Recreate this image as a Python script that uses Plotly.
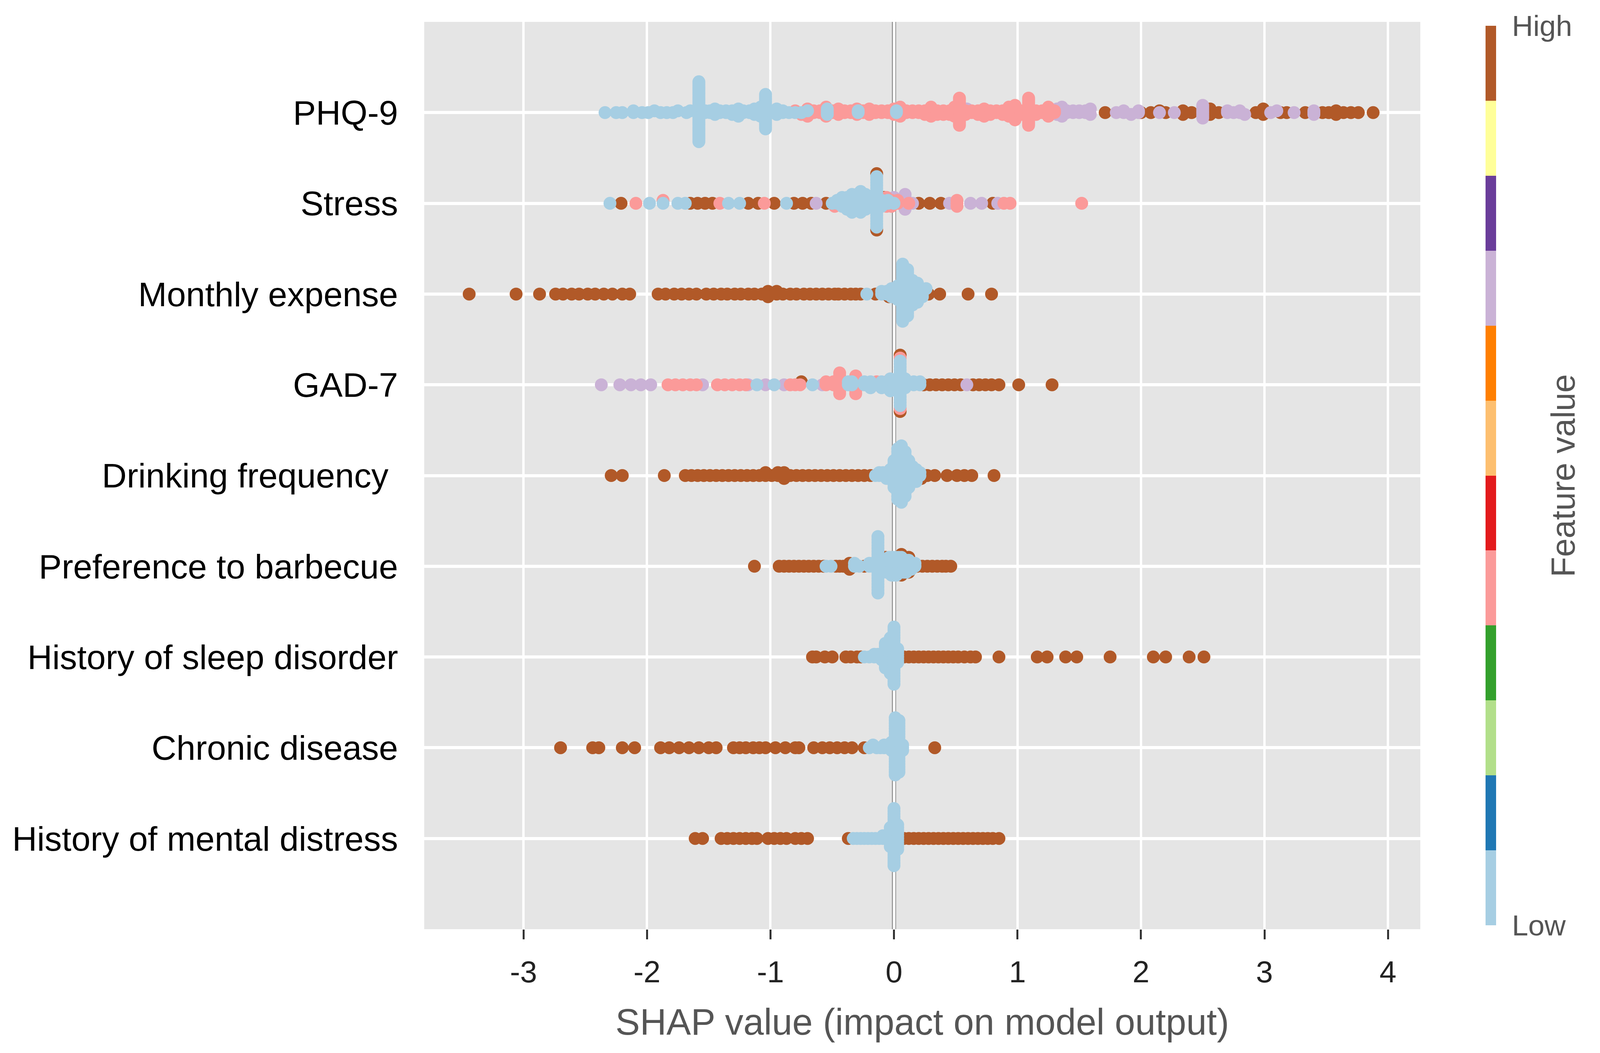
import numpy as np
import plotly.graph_objects as go

# rows from top to bottom
features = ["PHQ-9", "Stress", "Monthly expense", "GAD-7", "Drinking frequency\u00a0",
            "Preference to barbecue", "History of sleep disorder", "Chronic disease",
            "History of mental distress"]

x_ticks = [-3, -2, -1, 0, 1, 2, 3, 4]
x_tick_text = ["-3", "-2", "-1", "0", "1", "2", "3", "4"]

# feature value levels (0 = low ... 1 = high)
LOW, MID, UPPER, HIGH = 0.0, 0.4, 0.7, 1.0

# ---- PHQ-9 ----
phq9_low_x = [-2.34, -2.25, -2.20, -2.11, -2.04, -1.99, -1.94, -1.89, -1.84, -1.79, -1.75, -1.68, -1.65,
              -1.58, -1.53, -1.49, -1.45, -1.41, -1.36, -1.31, -1.26, -1.22, -1.17, -1.13, -1.08, -1.04,
              -1.00, -0.95, -0.90, -0.85, -0.80, -0.75, -0.70, -0.54, -0.29, 0.02]
phq9_low_n = [1, 1, 1, 2, 1, 1, 1, 1, 1, 1, 1, 1, 1,
              34, 2, 2, 2, 2, 2, 3, 2, 2, 2, 2, 6, 20,
              2, 2, 2, 1, 1, 1, 1, 4, 2, 2]
phq9_mid_x = [-0.80, -0.75, -0.70, -0.65, -0.60, -0.55, -0.50, -0.45, -0.40, -0.35,
              -0.30, -0.25, -0.20, -0.15, -0.10, -0.05, 0.00, 0.05, 0.10, 0.15,
              0.20, 0.25, 0.30, 0.35, 0.40, 0.45, 0.49, 0.53, 0.58, 0.63,
              0.68, 0.73, 0.78, 0.83, 0.88, 0.93, 0.98, 1.03, 1.09, 1.15,
              1.20, 1.25, 1.30]
phq9_mid_n = [1, 1, 2, 2, 2, 2, 2, 2, 2, 2,
              2, 2, 2, 2, 2, 2, 2, 2, 2, 2,
              2, 3, 3, 3, 3, 3, 3, 16, 3, 2,
              3, 2, 3, 2, 3, 6, 3, 3, 16, 3,
              2, 6, 2]
phq9_upper_x = [0.59, 1.32, 1.36, 1.40, 1.45, 1.50, 1.55, 1.59, 1.80, 1.86, 1.92, 1.98, 2.15, 2.27,
                2.50, 2.70, 2.75, 2.80, 2.84, 3.05, 3.10, 3.24, 3.40]
phq9_upper_n = [1, 2, 2, 2, 2, 2, 2, 2, 1, 2, 1, 2, 1, 1,
                8, 2, 1, 2, 1, 1, 1, 1, 3]
phq9_high_x = [1.71, 2.00, 2.08, 2.15, 2.20, 2.34, 2.41, 2.56, 2.63, 2.93, 2.99, 3.13, 3.18,
               3.33, 3.47, 3.52, 3.58, 3.64, 3.70, 3.76, 3.88]
phq9_high_n = [1, 1, 1, 1, 1, 3, 1, 4, 1, 1, 4, 1, 1,
               1, 1, 1, 3, 1, 1, 1, 1]

# ---- Stress ----
stress_low_x = [-2.30, -1.98, -1.87, -1.75, -1.69, -1.34, -1.25, -0.87, -0.50, -0.46, -0.42, -0.38,
                -0.34, -0.30, -0.27, -0.23, -0.19, -0.14, -0.10, -0.05, 0.00]
stress_low_n = [1, 1, 1, 1, 1, 1, 1, 1, 1, 2, 4, 5,
                7, 6, 8, 6, 4, 18, 3, 2, 1]
stress_mid_x = [-2.09, -1.87, -1.41, -1.05, -0.48, -0.06, -0.02, 0.03, 0.12, 0.51, 0.89, 0.94, 1.52]
stress_mid_n = [1, 1, 1, 1, 1, 2, 2, 2, 1, 3, 1, 1, 1]
stress_upper_x = [-0.63, 0.00, 0.09, 0.15, 0.45, 0.62, 0.71, 0.84]
stress_upper_n = [1, 1, 5, 1, 1, 1, 1, 1]
stress_high_x = [-2.21, -1.65, -1.59, -1.53, -1.47, -1.18, -1.10, -0.97, -0.81, -0.74, -0.67, -0.55,
                 -0.14, -0.08, 0.05, 0.20, 0.29, 0.38, 0.80]
stress_high_n = [1, 1, 1, 1, 1, 1, 1, 1, 1, 1, 1, 1,
                 2, 1, 1, 1, 1, 1, 1]

# ---- Monthly expense ----
expense_low_x = [-0.22, -0.10, -0.06, -0.02, 0.03, 0.07, 0.11, 0.15, 0.19, 0.23, 0.26]
expense_low_n = [1, 2, 2, 4, 6, 22, 18, 10, 8, 3, 1]
expense_high_x = [-3.44, -3.06, -2.87, -2.74, -2.68, -2.61, -2.55, -2.48, -2.42, -2.35,
                  -2.28, -2.20, -2.14, -1.91, -1.85, -1.78, -1.72, -1.66, -1.60, -1.52,
                  -1.46, -1.40, -1.35, -1.29, -1.24, -1.18, -1.13, -1.07, -1.02, -0.95,
                  -0.90, -0.84, -0.79, -0.73, -0.68, -0.63, -0.58, -0.53, -0.48, -0.45,
                  -0.40, -0.35, -0.31, -0.27, -0.15, -0.04, 0.28, 0.37, 0.60, 0.79]
expense_high_n = [1, 1, 1, 1, 1, 1, 1, 1, 1, 1,
                  1, 1, 1, 1, 1, 1, 1, 1, 1, 1,
                  1, 1, 1, 1, 1, 1, 1, 1, 3, 2,
                  1, 1, 1, 1, 1, 1, 1, 1, 1, 1,
                  1, 1, 1, 1, 1, 1, 1, 1, 1, 1]

# ---- GAD-7 ----
gad7_low_x = [-1.11, -0.97, -0.66, -0.37, -0.34, -0.24, -0.19, -0.10, -0.03, 0.05, 0.09, 0.16, 0.21]
gad7_low_n = [1, 1, 1, 2, 2, 2, 3, 3, 5, 16, 4, 2, 2]
gad7_mid_x = [-1.83, -1.77, -1.71, -1.65, -1.60, -1.43, -1.37, -1.31, -1.25, -1.20,
              -0.84, -0.80, -0.76, -0.55, -0.49, -0.44, -0.31, -0.14, -0.06, 0.02, 0.05, 0.11]
gad7_mid_n = [1, 1, 1, 1, 1, 1, 1, 1, 1, 1,
              1, 1, 1, 2, 2, 8, 5, 2, 2, 1, 2, 1]
gad7_upper_x = [-2.37, -2.22, -2.13, -2.05, -1.97, -1.55, -1.18, -1.04, -0.89, -0.58, 0.59]
gad7_upper_n = [1, 1, 1, 1, 1, 1, 1, 1, 1, 1, 1]
gad7_high_x = [-0.75, 0.05, 0.24, 0.29, 0.34, 0.39, 0.44, 0.49, 0.54, 0.64, 0.69, 0.74, 0.79, 0.85,
               1.01, 1.28]
gad7_high_n = [1, 2, 1, 1, 1, 1, 1, 1, 1, 1, 1, 1, 1, 1,
               1, 1]

# ---- Drinking frequency ----
drink_low_x = [-0.15, -0.12, -0.09, -0.06, -0.03, 0.00, 0.03, 0.06, 0.09, 0.12, 0.15, 0.18, 0.21]
drink_low_n = [1, 2, 2, 3, 4, 10, 18, 20, 16, 10, 6, 5, 2]
drink_high_x = [-2.29, -2.20, -1.86, -1.69, -1.64, -1.59, -1.54, -1.49, -1.44, -1.39,
                -1.34, -1.29, -1.24, -1.19, -1.14, -1.09, -1.04, -0.99, -0.94, -0.89,
                -0.84, -0.79, -0.74, -0.69, -0.64, -0.59, -0.54, -0.49, -0.44, -0.39,
                -0.34, -0.29, -0.24, -0.19, 0.22, 0.27, 0.33, 0.43, 0.51, 0.57,
                0.63, 0.81]
drink_high_n = [1, 1, 1, 1, 1, 1, 1, 1, 1, 1,
                1, 1, 1, 1, 1, 1, 2, 1, 2, 3,
                1, 1, 1, 1, 1, 1, 1, 1, 1, 1,
                1, 1, 1, 1, 1, 1, 1, 1, 1, 1,
                1, 1]

# ---- Preference to barbecue ----
bbq_low_x = [-0.55, -0.51, -0.32, -0.28, -0.20, -0.17, -0.13, -0.10, -0.06, -0.04,
             -0.02, 0.00, 0.02, 0.04, 0.06, 0.08, 0.10, 0.12, 0.14, 0.17]
bbq_low_n = [1, 1, 2, 1, 2, 2, 20, 2, 5, 6,
             7, 7, 7, 6, 6, 5, 5, 4, 3, 2]
bbq_high_x = [-1.13, -0.93, -0.89, -0.85, -0.81, -0.77, -0.73, -0.69, -0.65, -0.61,
              -0.57, -0.47, -0.44, -0.41, -0.36, -0.24, -0.07, 0.06, 0.12, 0.19,
              0.23, 0.27, 0.31, 0.35, 0.39, 0.42, 0.46]
bbq_high_n = [1, 1, 1, 1, 1, 1, 1, 1, 1, 1,
              1, 1, 1, 1, 3, 1, 1, 2, 2, 1,
              1, 1, 1, 1, 1, 1, 1]

# ---- History of sleep disorder ----
sleep_low_x = [-0.24, -0.20, -0.16, -0.13, -0.10, -0.07, -0.03, 0.00, 0.03]
sleep_low_n = [1, 1, 2, 2, 3, 10, 14, 22, 6]
sleep_high_x = [-0.66, -0.63, -0.56, -0.50, -0.39, -0.35, -0.30, -0.27, 0.08, 0.12,
                0.16, 0.20, 0.24, 0.28, 0.32, 0.36, 0.40, 0.44, 0.48, 0.52,
                0.57, 0.62, 0.66, 0.85, 1.16, 1.24, 1.39, 1.48, 1.75, 2.10,
                2.20, 2.39, 2.51]
sleep_high_n = [1, 1, 1, 1, 1, 1, 1, 1, 1, 1,
                1, 1, 1, 1, 1, 1, 1, 1, 1, 1,
                1, 1, 1, 1, 1, 1, 1, 1, 1, 1,
                1, 1, 1]

# ---- Chronic disease ----
chronic_low_x = [-0.20, -0.17, -0.14, -0.11, -0.08, -0.05, -0.02, 0.01, 0.04, 0.07]
chronic_low_n = [1, 1, 1, 1, 2, 2, 4, 22, 20, 3]
chronic_high_x = [-2.70, -2.44, -2.39, -2.20, -2.10, -1.89, -1.82, -1.74, -1.66, -1.58,
                  -1.50, -1.44, -1.30, -1.25, -1.20, -1.14, -1.09, -1.04, -0.96, -0.88,
                  -0.80, -0.77, -0.65, -0.58, -0.52, -0.46, -0.40, -0.34, -0.24, 0.33]
chronic_high_n = [1, 1, 1, 1, 1, 1, 1, 1, 1, 1,
                  1, 1, 1, 1, 1, 1, 1, 1, 1, 1,
                  1, 1, 1, 1, 1, 1, 1, 1, 1, 1]

# ---- History of mental distress ----
mental_low_x = [-0.33, -0.30, -0.27, -0.24, -0.21, -0.18, -0.15, -0.12, -0.09, -0.06, -0.03, 0.00, 0.03]
mental_low_n = [1, 1, 1, 1, 1, 1, 1, 1, 2, 2, 8, 22, 10]
mental_high_x = [-1.61, -1.55, -1.40, -1.35, -1.30, -1.25, -1.20, -1.15, -1.11, -1.02,
                 -0.97, -0.92, -0.87, -0.80, -0.75, -0.70, -0.37, 0.08, 0.12, 0.16,
                 0.20, 0.24, 0.28, 0.32, 0.36, 0.40, 0.44, 0.48, 0.52, 0.56,
                 0.60, 0.64, 0.68, 0.72, 0.76, 0.80, 0.85]
mental_high_n = [1, 1, 1, 1, 1, 1, 1, 1, 1, 1,
                 1, 1, 1, 1, 1, 1, 1, 1, 1, 1,
                 1, 1, 1, 1, 1, 1, 1, 1, 1, 1,
                 1, 1, 1, 1, 1, 1, 1]

rows = [
    [(phq9_low_x, phq9_low_n, LOW), (phq9_mid_x, phq9_mid_n, MID),
     (phq9_upper_x, phq9_upper_n, UPPER), (phq9_high_x, phq9_high_n, HIGH)],
    [(stress_low_x, stress_low_n, LOW), (stress_mid_x, stress_mid_n, MID),
     (stress_upper_x, stress_upper_n, UPPER), (stress_high_x, stress_high_n, HIGH)],
    [(expense_low_x, expense_low_n, LOW), (expense_high_x, expense_high_n, HIGH)],
    [(gad7_low_x, gad7_low_n, LOW), (gad7_mid_x, gad7_mid_n, MID),
     (gad7_upper_x, gad7_upper_n, UPPER), (gad7_high_x, gad7_high_n, HIGH)],
    [(drink_low_x, drink_low_n, LOW), (drink_high_x, drink_high_n, HIGH)],
    [(bbq_low_x, bbq_low_n, LOW), (bbq_high_x, bbq_high_n, HIGH)],
    [(sleep_low_x, sleep_low_n, LOW), (sleep_high_x, sleep_high_n, HIGH)],
    [(chronic_low_x, chronic_low_n, LOW), (chronic_high_x, chronic_high_n, HIGH)],
    [(mental_low_x, mental_low_n, LOW), (mental_high_x, mental_high_n, HIGH)],
]

paired = ["#a6cee3", "#1f78b4", "#b2df8a", "#33a02c", "#fb9a99", "#e31a1c",
          "#fdbf6f", "#ff7f00", "#cab2d6", "#6a3d9a", "#ffff99", "#b15928"]


def swarm_offsets(shaps, nbins=100, row_height=0.4):
    # same stacking rule as shap's beeswarm summary plot
    shaps = np.asarray(shaps, dtype=float)
    quant = np.round(nbins * (shaps - shaps.min()) / (shaps.max() - shaps.min() + 1e-8))
    ys = np.zeros(len(shaps))
    layer, last_bin = 0, -1
    for ind in np.argsort(quant, kind="stable"):
        if quant[ind] != last_bin:
            layer = 0
        ys[ind] = np.ceil(layer / 2) * ((layer % 2) * 2 - 1)
        layer += 1
        last_bin = quant[ind]
    ys *= 0.9 * (row_height / np.max(ys + 1))
    return ys


all_x, all_y, all_c = [], [], []
n_rows = len(features)
for i, groups in enumerate(rows):
    xs = np.concatenate([np.repeat(g[0], g[1]) for g in groups])
    cs = np.concatenate([np.repeat(g[2], np.sum(g[1])) for g in groups])
    pos = n_rows - 1 - i
    all_x.append(xs)
    all_y.append(pos + swarm_offsets(xs))
    all_c.append(cs)

px_x = np.concatenate(all_x)
px_y = np.concatenate(all_y)
px_c = np.concatenate(all_c)
# outer (higher valued) points go underneath, so they show as rims around the piles
order = np.argsort(-px_c, kind="stable")

# discrete "Paired" colour scale
cscale = []
for k, col in enumerate(paired):
    cscale.append([k / 12, col])
    cscale.append([(k + 1) / 12, col])

fig = go.Figure(go.Scatter(
    x=px_x[order], y=px_y[order], mode="markers",
    marker=dict(size=33, color=px_c[order], colorscale=cscale, cmin=0, cmax=1,
                line=dict(width=0), opacity=1,
                colorbar=dict(x=1.0614, xanchor="left", y=0.5, yanchor="middle", len=1.0,
                              thickness=27, outlinewidth=0, tickvals=[0, 1],
                              ticktext=["Low", "High"], ticks="outside", ticklen=26,
                              tickcolor="rgba(0,0,0,0)",
                              tickfont=dict(size=75, color="#555555"))),
    showlegend=False, hoverinfo="skip"))

fig.add_shape(type="line", x0=0, x1=0, xref="x", y0=0, y1=1, yref="paper",
              line=dict(color="#999999", width=11), layer="below")

fig.add_annotation(text="Feature value", x=1.1432, y=0.5, xref="paper", yref="paper",
                   textangle=-90, showarrow=False, xanchor="center", yanchor="middle",
                   font=dict(size=85, color="#555555"))

fig.update_layout(
    margin=dict(l=1078, r=452, t=48, b=309),
    paper_bgcolor="white", plot_bgcolor="#e5e5e5",
    font=dict(family="Liberation Sans, Arial, sans-serif"),
    xaxis=dict(range=[-3.804, 4.262], tickvals=x_ticks, ticktext=x_tick_text,
               showgrid=True, gridcolor="white", gridwidth=6, zeroline=False, showline=False,
               ticks="outside", ticklen=25, tickwidth=5, tickcolor="#333333",
               ticklabelstandoff=16,
               tickfont=dict(size=78, color="#222222"),
               title=dict(text="SHAP value (impact on model output)",
                          font=dict(size=94, color="#555555"), standoff=52)),
    yaxis=dict(range=[-1, 9], tickvals=list(range(n_rows)), ticktext=features[::-1],
               showgrid=True, gridcolor="white", gridwidth=8, zeroline=False, showline=False,
               ticks="", ticklabelstandoff=66,
               tickfont=dict(size=88, color="#000000")),
)

fig.write_html("out.html")
